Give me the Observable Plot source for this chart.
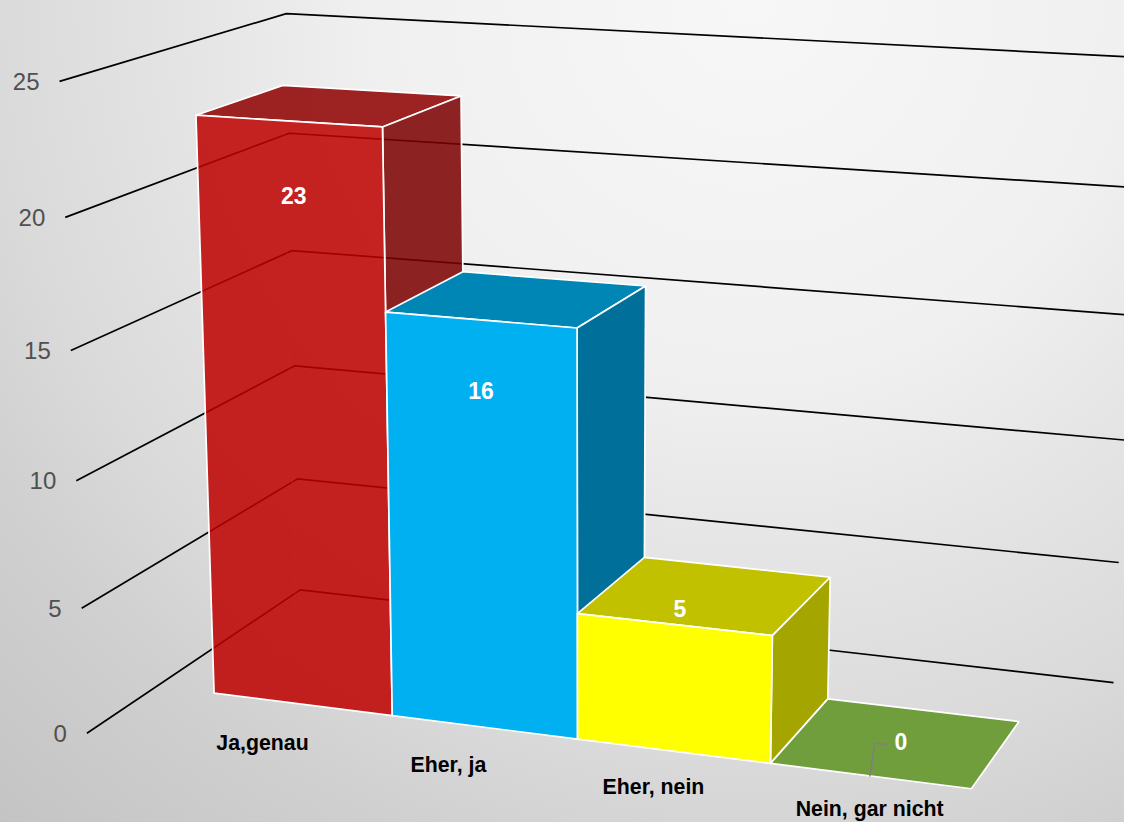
<!doctype html>
<html>
<head>
<meta charset="utf-8">
<style>html,body{margin:0;padding:0;overflow:hidden;background:#ddd}</style>
<script src="https://cdn.jsdelivr.net/npm/d3@7"></script>
<script src="https://cdn.jsdelivr.net/npm/@observablehq/plot@0.6"></script>
</head>
<body>
<div id="chart"></div>
<script>
// Survey answers and their counts
const categories = ["Ja,genau", "Eher, ja", "Eher, nein", "Nein, gar nicht"];
const counts = [23, 16, 5, 0];
const axisLevels = [0, 5, 10, 15, 20, 25];

// Face colours per bar: front, top, side
const frontColors = ["#be0000", "#00b0f0", "#ffff00", "#70ad47"];
const topColors = ["#8f0000", "#0086b5", "#c1c100", "#709e3c"];
const sideColors = ["#7b0000", "#00709b", "#a5a500", "#547a2e"];

const W = 1124, H = 822;

// Perspective camera: (column, value, depth) in chart space to page pixels
const CAM = [170.66012, -11.76105, 97.72966, 213.57036,
             8.76295, -253.54538, -23.96948, 692.62,
             -0.01922, -0.01989, 0.05276];
function project(c, v, d) {
  const V = v / 10;
  const w = CAM[8] * c + CAM[9] * V + CAM[10] * d + 1;
  return {
    x: (CAM[0] * c + CAM[1] * V + CAM[2] * d + CAM[3]) / w,
    y: (CAM[4] * c + CAM[5] * V + CAM[6] * d + CAM[7]) / w
  };
}

// Extent of the box that holds the bars
const WALL_LEFT = -0.327, WALL_RIGHT = 4.327, WALL_FRONT = -0.76, WALL_BACK = 1.755;

const path = (corners) => corners.map(([c, v, d]) => project(c, v, d));
const closed = (corners) => path([...corners, corners[0]]);

const font = "'Liberation Sans', Arial, sans-serif";
const marks = [];

// Gridlines: along the left wall, then along the back wall
axisLevels.forEach((v) => {
  marks.push(Plot.line(path([[WALL_LEFT, v, WALL_FRONT], [WALL_LEFT, v, WALL_BACK], [WALL_RIGHT, v, WALL_BACK]]),
    {x: "x", y: "y", stroke: "#000", strokeWidth: 1.7, strokeLinejoin: "miter", strokeLinecap: "butt"}));
});

// Value axis labels, right-aligned before the start of each gridline
marks.push(Plot.text(axisLevels.map((v) => ({...project(WALL_LEFT, v, WALL_FRONT), v})), {
  x: "x", y: "y", text: (d) => String(d.v), dx: -20, dy: 1, textAnchor: "end",
  fontFamily: font, fontSize: 24, fill: "#505050"
}));

// The bars, back-to-front from left to right
function quad(corners, fill, opacity) {
  return Plot.line(closed(corners), {
    x: "x", y: "y", fill, fillOpacity: opacity,
    stroke: "#fff", strokeWidth: 1.7, strokeLinejoin: "miter"
  });
}
counts.forEach((v, i) => {
  const a = i, b = i + 1;
  const see = i === 0 ? 0.86 : 1;   // the first bar is slightly see-through
  if (i === 0) {
    // Hidden edges that show through the translucent faces
    for (const edge of [[[a, 0, 1], [a, v, 1]], [[a, 0, 0], [a, 0, 1]], [[a, 0, 1], [b, 0, 1]]]) {
      marks.push(Plot.line(path(edge), {x: "x", y: "y", stroke: "#fff", strokeWidth: 1, strokeOpacity: 0.35}));
    }
  }
  if (v > 0) {
    marks.push(quad([[a, v, 0], [a, v, 1], [b, v, 1], [b, v, 0]], topColors[i], see));
    marks.push(quad([[b, 0, 0], [b, 0, 1], [b, v, 1], [b, v, 0]], sideColors[i], see));
    marks.push(quad([[a, 0, 0], [b, 0, 0], [b, v, 0], [a, v, 0]], frontColors[i], see));
  } else {
    marks.push(quad([[a, 0, 0], [a, 0, 1], [b, 0, 1], [b, 0, 0]], topColors[i], 1));
  }
});

// Leader from the flat bar up to its label
marks.push(Plot.line(path([[3.5, 0, 0], [3.52, 1.3, 0], [3.578, 1.3, 0]]), {
  x: "x", y: "y", stroke: "#7f7f7f", strokeWidth: 1.5, strokeLinejoin: "miter"
}));

// Count labels, placed on each bar
const countAnchors = [[0.52, 20.15, 0], [1.5, 13.25, 0], [2.53, 5.6, 0], [3.52, 0, 0.5]];
marks.push(Plot.text(counts.map((n, i) => ({...project(...countAnchors[i]), n})), {
  x: "x", y: "y", text: (d) => String(d.n),
  fontFamily: font, fontSize: 23, fontWeight: "bold", fill: "#fff"
}));

// Category labels on the floor in front of the bars
const categoryAnchors = [[0.555, -0.585], [1.54, -0.563], [2.569, -0.494], [3.617, -0.427]];
marks.push(Plot.text(categories.map((name, i) => ({...project(categoryAnchors[i][0], 0, categoryAnchors[i][1]), name})), {
  x: "x", y: "y", text: "name",
  fontFamily: font, fontSize: 21.3, fontWeight: "bold", fill: "#000"
}));

const chart = Plot.plot({
  width: W,
  height: H,
  margin: 0,
  x: {domain: [0, W], range: [0, W], axis: null},
  y: {domain: [0, H], range: [0, H], axis: null},
  style: {
    background: "radial-gradient(circle 1112px at 750px 0px, #f7f7f7 0%, #f0f0f0 34%, #e5e5e5 50%, #dadada 68%, #d0d0d0 80%, #c4c4c4 100%)",
    overflow: "hidden",
    display: "block"
  },
  marks
});
document.getElementById("chart").append(chart);
</script>
</body>
</html>
